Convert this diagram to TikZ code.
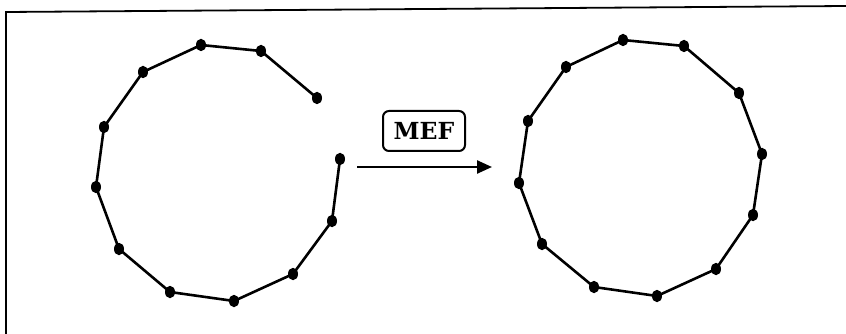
\documentclass[tikz,border=0pt]{standalone}
\usepackage{fontspec}
\setmainfont{DejaVu Serif}
\usetikzlibrary{shapes.geometric,arrows.meta}
\begin{document}
\begin{tikzpicture}[x=1pt,y=-1pt,
  dot/.style={ellipse,fill=black,draw=none,minimum width=10pt,minimum height=12.5pt,inner sep=0pt},
  bond/.style={line width=2.6pt},
  frame/.style={line width=1.8pt},
  labelbox/.style={draw,line width=2pt,rounded corners=6pt,minimum width=82pt,minimum height=40pt,inner sep=0pt,font=\bfseries\fontsize{23.5}{23.5}\selectfont}]
\useasboundingbox (0,0) rectangle (846,334);
% frame
\coordinate (fb) at (6,334);
\coordinate (fc) at (6,12);
\coordinate (fr) at (846,6);
\draw[frame] (fb) -- (fc) -- (fr);
% left open chain
\node[dot] (a1) at (317,98) {};
\node[dot] (a2) at (261,51) {};
\node[dot] (a3) at (201,45) {};
\node[dot] (a4) at (143,72) {};
\node[dot] (a5) at (104,127) {};
\node[dot] (a6) at (96,187) {};
\node[dot] (a7) at (119,249) {};
\node[dot] (a8) at (170,292) {};
\node[dot] (a9) at (234,301) {};
\node[dot] (a10) at (293,274) {};
\node[dot] (a11) at (332,221) {};
\node[dot] (a12) at (340,159) {};
\draw[bond] (a1.center) -- (a2.center) -- (a3.center) -- (a4.center) -- (a5.center) -- (a6.center) -- (a7.center) -- (a8.center) -- (a9.center) -- (a10.center) -- (a11.center) -- (a12.center);
% right closed ring
\node[dot] (b1) at (623,40) {};
\node[dot] (b2) at (684,46) {};
\node[dot] (b3) at (739,93) {};
\node[dot] (b4) at (762,154) {};
\node[dot] (b5) at (753,215) {};
\node[dot] (b6) at (716,269) {};
\node[dot] (b7) at (657,296) {};
\node[dot] (b8) at (594,287) {};
\node[dot] (b9) at (542,244) {};
\node[dot] (b10) at (519,183) {};
\node[dot] (b11) at (528,121) {};
\node[dot] (b12) at (566,67) {};
\draw[bond] (b1.center) -- (b2.center) -- (b3.center) -- (b4.center) -- (b5.center) -- (b6.center) -- (b7.center) -- (b8.center) -- (b9.center) -- (b10.center) -- (b11.center) -- (b12.center) -- cycle;
% label and arrow
\node[labelbox] (mef) at (424,131) {MEF};
\coordinate (ars) at (357,167);
\coordinate (are) at (492,167);
\draw[line width=2.4pt,-{Triangle[length=15pt,width=13pt]}] (ars) -- (are);
\end{tikzpicture}
\end{document}
